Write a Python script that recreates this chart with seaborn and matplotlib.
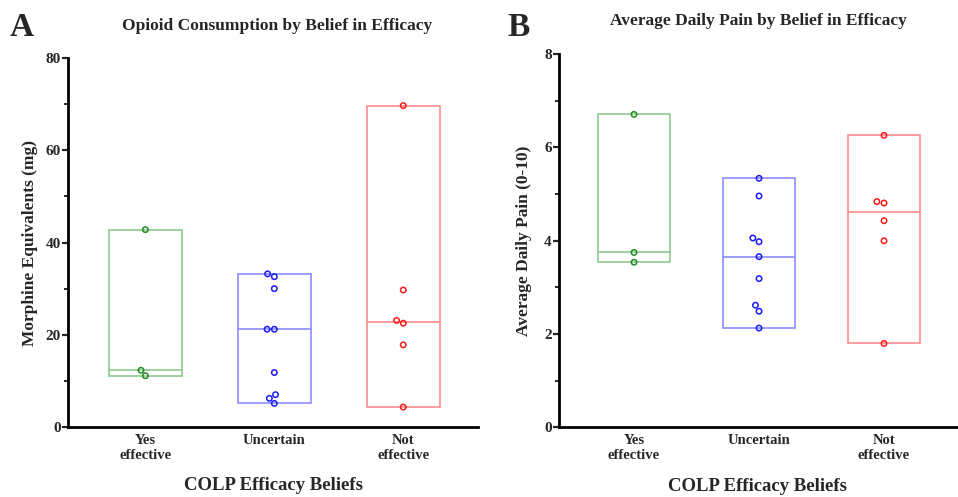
import pandas as pd
import matplotlib
matplotlib.use("Agg")
import matplotlib.pyplot as plt
from matplotlib.collections import PathCollection
from matplotlib.ticker import MultipleLocator
import seaborn as sns

GROUPS = ["Yes\neffective", "Uncertain", "Not\neffective"]
POINT_COLORS = ["#228b22", "#1a1aff", "#ff1a1a"]
BOX_COLORS = ["#8fca8f", "#8c8cff", "#ff8c8c"]

# opioid consumption, morphine equivalents (mg)
opioid_yes = [42.8, 12.3, 11.1]
opioid_uncertain = [33.2, 32.6, 30.0, 21.2, 21.2, 11.8, 7.0, 6.2, 5.1]
opioid_not = [69.7, 29.7, 23.1, 22.5, 17.8, 4.3]

# average daily pain (0-10)
pain_yes = [6.71, 3.75, 3.54]
pain_uncertain = [5.34, 4.96, 4.06, 3.98, 3.66, 3.19, 2.62, 2.49, 2.13]
pain_not = [6.26, 4.84, 4.81, 4.43, 4.00, 1.80]


def long_form(yes, unc, not_eff):
    rows = [(GROUPS[0], v) for v in yes] + [(GROUPS[1], v) for v in unc] + [(GROUPS[2], v) for v in not_eff]
    return pd.DataFrame(rows, columns=["group", "value"])


def panel(ax, df, ymax, major, ylabel, ylabel_x, xlabel_y):
    stats = df.groupby("group", sort=False)["value"].agg(["min", "max", "median"]).reindex(GROUPS)
    w = 0.57
    for i, (g, row) in enumerate(stats.iterrows()):
        # min-max box with median line
        ax.bar(i, row["max"] - row["min"], bottom=row["min"], width=w, fill=False,
               edgecolor=BOX_COLORS[i], linewidth=1.2, zorder=1)
        ax.plot([i - w / 2, i + w / 2], [row["median"]] * 2, color=BOX_COLORS[i], lw=1.2, zorder=1)

    sns.swarmplot(data=df, x="group", y="value", hue="group", order=GROUPS, hue_order=GROUPS,
                  palette=POINT_COLORS, size=3.9, legend=False, ax=ax, zorder=3)
    for c in ax.collections:
        if isinstance(c, PathCollection):
            fc = c.get_facecolors()
            c.set_facecolors("none")
            c.set_edgecolors(fc)
            c.set_linewidth(1.1)

    ax.set_xlim(-0.6, 2.58)
    ax.set_ylim(0, ymax)
    ax.yaxis.set_major_locator(MultipleLocator(major))
    ax.yaxis.set_minor_locator(MultipleLocator(major / 2))
    for s in ["top", "right"]:
        ax.spines[s].set_visible(False)
    for s in ["left", "bottom"]:
        ax.spines[s].set_linewidth(2)
        ax.spines[s].set_color("black")
    ax.tick_params(axis="y", which="major", direction="out", length=4.3, width=1.6, labelsize=11, pad=1)
    ax.tick_params(axis="y", which="minor", direction="out", length=3, width=1.4)
    ax.tick_params(axis="x", length=0, labelsize=10.5, pad=5)
    for lab in ax.get_xticklabels() + ax.get_yticklabels():
        lab.set_fontweight("bold")
    ax.set_xlabel("COLP Efficacy Beliefs", fontsize=13.5, fontweight="bold", va="center")
    ax.xaxis.set_label_coords(0.5, xlabel_y)
    ax.set_ylabel(ylabel, fontsize=12.5, fontweight="bold")
    ax.yaxis.set_label_coords(ylabel_x, 0.5)


def main():
    sns.set_theme(style="ticks")
    plt.rcParams["font.family"] = ["Liberation Serif", "DejaVu Serif"]

    fig = plt.figure(figsize=(9.58, 4.97), dpi=100)
    ax1 = fig.add_axes([0.071, 0.141, 0.428, 0.742])
    ax2 = fig.add_axes([0.5835, 0.140, 0.415, 0.751])

    panel(ax1, long_form(opioid_yes, opioid_uncertain, opioid_not), 80, 20,
          "Morphine Equivalents (mg)", -0.072, -0.160)
    panel(ax2, long_form(pain_yes, pain_uncertain, pain_not), 8, 2,
          "Average Daily Pain (0-10)", -0.068, -0.158)

    fig.text(0.289, 0.948, "Opioid Consumption by Belief in Efficacy", ha="center", va="center",
             fontsize=12.5, fontweight="bold")
    fig.text(0.792, 0.958, "Average Daily Pain by Belief in Efficacy", ha="center", va="center",
             fontsize=12.5, fontweight="bold")
    fig.text(0.023, 0.945, "A", ha="center", va="center", fontsize=24, fontweight="bold")
    fig.text(0.541, 0.945, "B", ha="center", va="center", fontsize=24, fontweight="bold")

    fig.savefig("out.png", dpi=100, facecolor="white")
    plt.close(fig)


if __name__ == "__main__":
    main()
